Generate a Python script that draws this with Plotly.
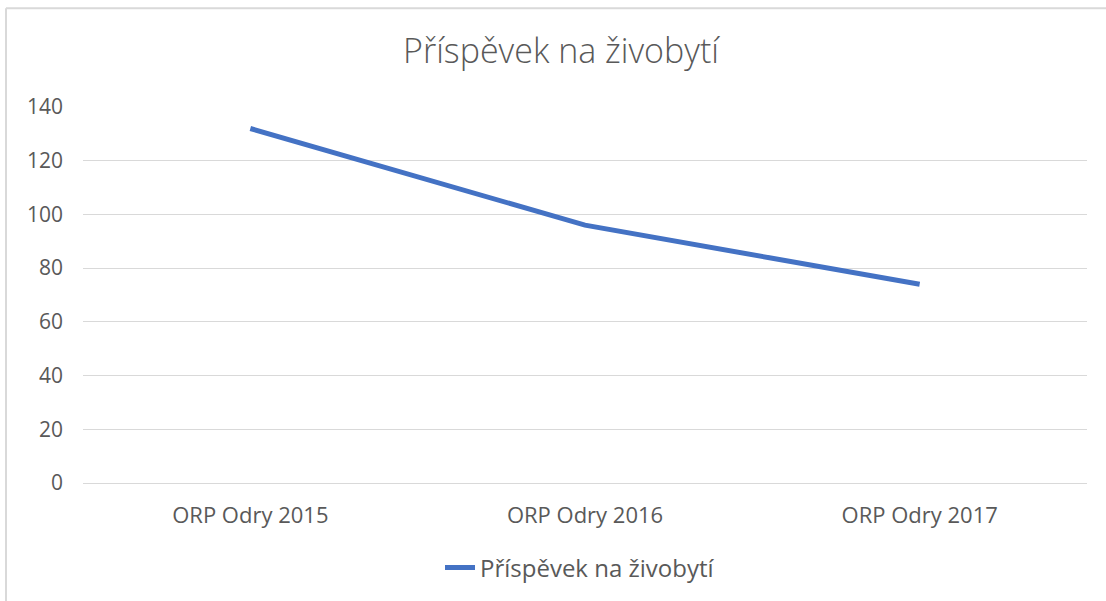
import plotly.graph_objects as go

categories = ["ORP Odry 2015", "ORP Odry 2016", "ORP Odry 2017"]
values = [132, 96, 74]
series_name = "Příspěvek na živobytí"
title_text = "Příspěvek na živobytí"
y_ticks = [0, 20, 40, 60, 80, 100, 120, 140]

W, H = 1106, 601
L, R, T, B = 83, 19, 107, 117
pw = W - L - R
ph = H - T - B

fig = go.Figure()
fig.add_trace(go.Scatter(
    x=categories, y=values, mode="lines", name=series_name,
    line=dict(color="#4472C4", width=5),
))

fnt = "Open Sans, Liberation Sans, sans-serif"
fig.update_layout(
    width=W, height=H,
    margin=dict(l=L, r=R, t=T, b=B),
    paper_bgcolor="white", plot_bgcolor="white",
    font=dict(family=fnt, color="#595959", size=22),
    title=dict(text=title_text, x=561 / W, xref="container", xanchor="center",
               y=1 - 51 / H, yref="container", yanchor="middle",
               font=dict(size=34, color="#595959", family=fnt, weight=300)),
    showlegend=True,
    legend=dict(orientation="h", x=(580 - L) / pw, xanchor="center",
                y=-(568 - (H - B)) / ph, yanchor="middle",
                font=dict(size=24, color="#595959"), bgcolor="rgba(0,0,0,0)"),
    xaxis=dict(type="category", range=[-0.5, 2.5], showgrid=False, showline=False,
               zeroline=False, ticks="", ticklabelstandoff=17,
               tickfont=dict(size=22, color="#595959")),
    yaxis=dict(range=[0, 140], tickvals=y_ticks, showgrid=True, gridcolor="#d9d9d9",
               gridwidth=1, zeroline=True, zerolinecolor="#d9d9d9", zerolinewidth=1,
               showline=False, ticks="", ticklabelstandoff=19,
               tickfont=dict(size=21, color="#595959")),
)
# outer chart border (light gray), left and top edges
fig.add_shape(type="line", xref="paper", yref="paper",
              x0=(6 - L) / pw, x1=(W + 5 - L) / pw, y0=(H - B - 8) / ph, y1=(H - B - 8) / ph,
              line=dict(color="#d9d9d9", width=2))
fig.add_shape(type="line", xref="paper", yref="paper",
              x0=(6 - L) / pw, x1=(6 - L) / pw, y0=(H - B - 8) / ph, y1=(H - B - H - 5) / ph,
              line=dict(color="#d9d9d9", width=2))

fig.write_html("out.html", config={"displayModeBar": False})

# remove default page margin so the figure sits at the window origin
with open("out.html", "r", encoding="utf-8") as f:
    html = f.read()
html = html.replace("<body>", '<body style="margin:0;overflow:hidden">', 1)
with open("out.html", "w", encoding="utf-8") as f:
    f.write(html)
